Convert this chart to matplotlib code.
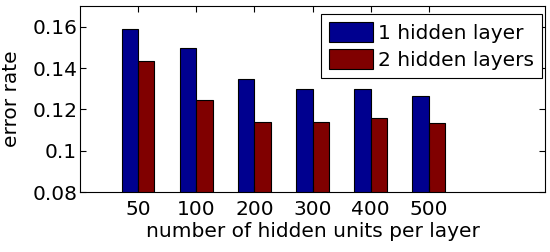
import numpy as np
import matplotlib.pyplot as plt

# data
units = ['50', '100', '200', '300', '400', '500']
one_layer = [0.159, 0.1495, 0.1346, 0.1298, 0.1298, 0.1265]
two_layers = [0.1432, 0.1244, 0.1137, 0.1141, 0.1156, 0.1136]

plt.rcParams['font.family'] = ['DejaVu Sans']

fig = plt.figure(figsize=(5.5, 2.52), dpi=100)
ax = fig.add_axes([80/550, 1-192/252, (545-80)/550, (192-6)/252])

x = np.arange(1, len(units)+1)
w = 0.28
ax.bar(x - w/2, one_layer, w, color=(0, 0, 0.56), edgecolor='black', linewidth=0.8,
       label='1 hidden layer')
ax.bar(x + w/2, two_layers, w, color=(0.5, 0, 0), edgecolor='black', linewidth=0.8,
       label='2 hidden layers')

ax.set_xlim(0, 8)
ax.set_ylim(0.08, 0.17)
ax.set_xticks(x)
ax.set_xticklabels(units)
ax.set_yticks([0.08, 0.1, 0.12, 0.14, 0.16])
ax.set_yticklabels(['0.08', '0.1', '0.12', '0.14', '0.16'])
ax.tick_params(direction='in', top=True, right=True, labelsize=14.5, length=4)
ax.tick_params(axis='x', pad=6)
ax.tick_params(axis='y', pad=2)
ax.set_xlabel('number of hidden units per layer', fontsize=14.5, labelpad=2)
ax.set_ylabel('error rate', fontsize=14.5, labelpad=8)

leg = ax.legend(loc='upper right', bbox_to_anchor=(0.9942, 0.9554), fontsize=14.5,
                fancybox=False, framealpha=1, edgecolor='black',
                handlelength=2.2, handleheight=1.12, handletextpad=0.25,
                borderpad=0.4, labelspacing=0.3, borderaxespad=0)
leg.get_frame().set_linewidth(0.8)

fig.savefig('out.png', dpi=100)
